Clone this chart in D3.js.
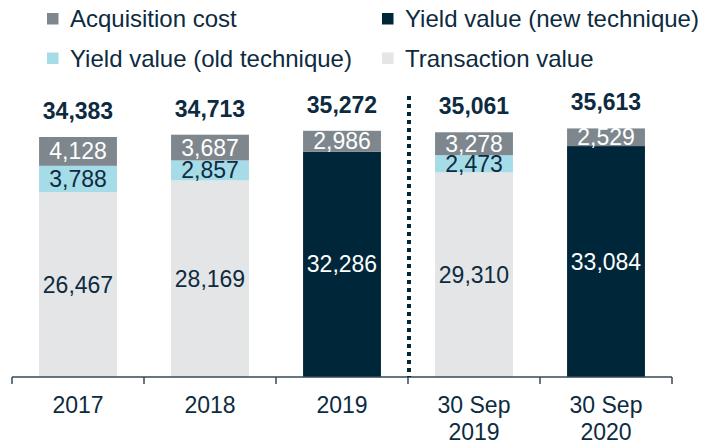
<!DOCTYPE html>
<html><head><meta charset="utf-8">
<script src="https://cdn.jsdelivr.net/npm/d3@7"></script>
<style>
html,body{margin:0;padding:0;background:#fff;}
svg{display:block;font-family:"Liberation Sans",Arial,sans-serif;}
</style></head>
<body><svg id="chart" width="702" height="444"></svg>
<script>
const categories = ["2017", "2018", "2019", "30 Sep 2019", "30 Sep 2020"];
const transactionValue = [26467, 28169, 0, 29310, 0];
const yieldOld = [3788, 2857, 0, 2473, 0];
const yieldNew = [0, 0, 32286, 0, 33084];
const acquisitionCost = [4128, 3687, 2986, 3278, 2529];
const totals = [34383, 34713, 35272, 35061, 35613];

const seriesNames = ["Transaction value", "Yield value (new technique)", "Yield value (old technique)", "Acquisition cost"];
const seriesValues = [transactionValue, yieldNew, yieldOld, acquisitionCost];
const colors = {"Transaction value":"#e4e5e7","Yield value (new technique)":"#002639","Yield value (old technique)":"#a6dbe8","Acquisition cost":"#7e878d"};
const labelColors = {"Transaction value":"#0d2b40","Yield value (new technique)":"#ffffff","Yield value (old technique)":"#0d2b40","Acquisition cost":"#ffffff"};
const textColor = "#0d2b40";

const svg = d3.select("#chart");
const x = d3.scaleBand().domain(categories).range([12, 672]).padding(0);
const y = d3.scaleLinear().domain([0, 40000]).range([377, 97.8]);
const barW = x.bandwidth() * 0.59;

const rows = categories.map((c, i) => {
  const o = {cat: c};
  seriesNames.forEach((s, k) => o[s] = seriesValues[k][i]);
  return o;
});
const stack = d3.stack().keys(seriesNames)(rows);

stack.forEach(layer => {
  const g = svg.append("g");
  layer.forEach(d => {
    const v = d[1] - d[0];
    if (v <= 0) return;
    const cx = x(d.data.cat) + x.bandwidth() / 2;
    g.append("rect")
      .attr("x", cx - barW / 2).attr("width", barW)
      .attr("y", y(d[1])).attr("height", y(d[0]) - y(d[1]))
      .attr("fill", colors[layer.key]);
  });
});
stack.forEach(layer => {
  layer.forEach(d => {
    const v = d[1] - d[0];
    if (v <= 0) return;
    const cx = x(d.data.cat) + x.bandwidth() / 2;
    svg.append("text")
      .attr("x", cx).attr("y", (y(d[0]) + y(d[1])) / 2)
      .attr("dy", "0.35em").attr("text-anchor", "middle")
      .attr("font-size", 23).attr("fill", labelColors[layer.key])
      .text(d3.format(",")(v));
  });
});

// totals
categories.forEach((c, i) => {
  svg.append("text")
    .attr("x", x(c) + x.bandwidth() / 2).attr("y", y(totals[i]) - 18)
    .attr("text-anchor", "middle").attr("font-size", 23).attr("font-weight", "bold")
    .attr("fill", textColor).text(d3.format(",")(totals[i]));
});

// axis
const axisColor = "#34495a";
svg.append("line").attr("x1", 12).attr("x2", 672).attr("y1", 377).attr("y2", 377)
  .attr("stroke", axisColor).attr("stroke-width", 1.5);
const bounds = categories.map(c => x(c)).concat([x(categories[categories.length - 1]) + x.bandwidth()]);
bounds.forEach(b => {
  svg.append("line").attr("x1", b).attr("x2", b).attr("y1", 377).attr("y2", 384)
    .attr("stroke", axisColor).attr("stroke-width", 1.5);
});
categories.forEach(c => {
  const cx = x(c) + x.bandwidth() / 2;
  const parts = c.startsWith("30 Sep") ? ["30 Sep", c.slice(7)] : [c];
  const t = svg.append("text").attr("text-anchor", "middle").attr("font-size", 23).attr("fill", textColor);
  parts.forEach((p, k) => t.append("tspan").attr("x", cx).attr("y", 413 + k * 27).text(p));
});

// dotted separator
const sepX = x("30 Sep 2019") + 1;
svg.append("line").attr("x1", sepX).attr("x2", sepX).attr("y1", 96).attr("y2", 377)
  .attr("stroke", "#002639").attr("stroke-width", 4).attr("stroke-dasharray", "4,4");

// legend
const legendItems = [
  {name: "Acquisition cost", sx: 47, tx: 70, base: 27},
  {name: "Yield value (new technique)", sx: 382, tx: 405, base: 27},
  {name: "Yield value (old technique)", sx: 47, tx: 70, base: 66.5},
  {name: "Transaction value", sx: 382, tx: 405, base: 66.5}
];
legendItems.forEach(l => {
  svg.append("rect").attr("x", l.sx).attr("y", l.base - 14).attr("width", 11.5).attr("height", 11.5)
    .attr("fill", colors[l.name]);
  svg.append("text").attr("x", l.tx).attr("y", l.base).attr("font-size", 24)
    .attr("fill", textColor).text(l.name);
});
</script>
</body></html>
